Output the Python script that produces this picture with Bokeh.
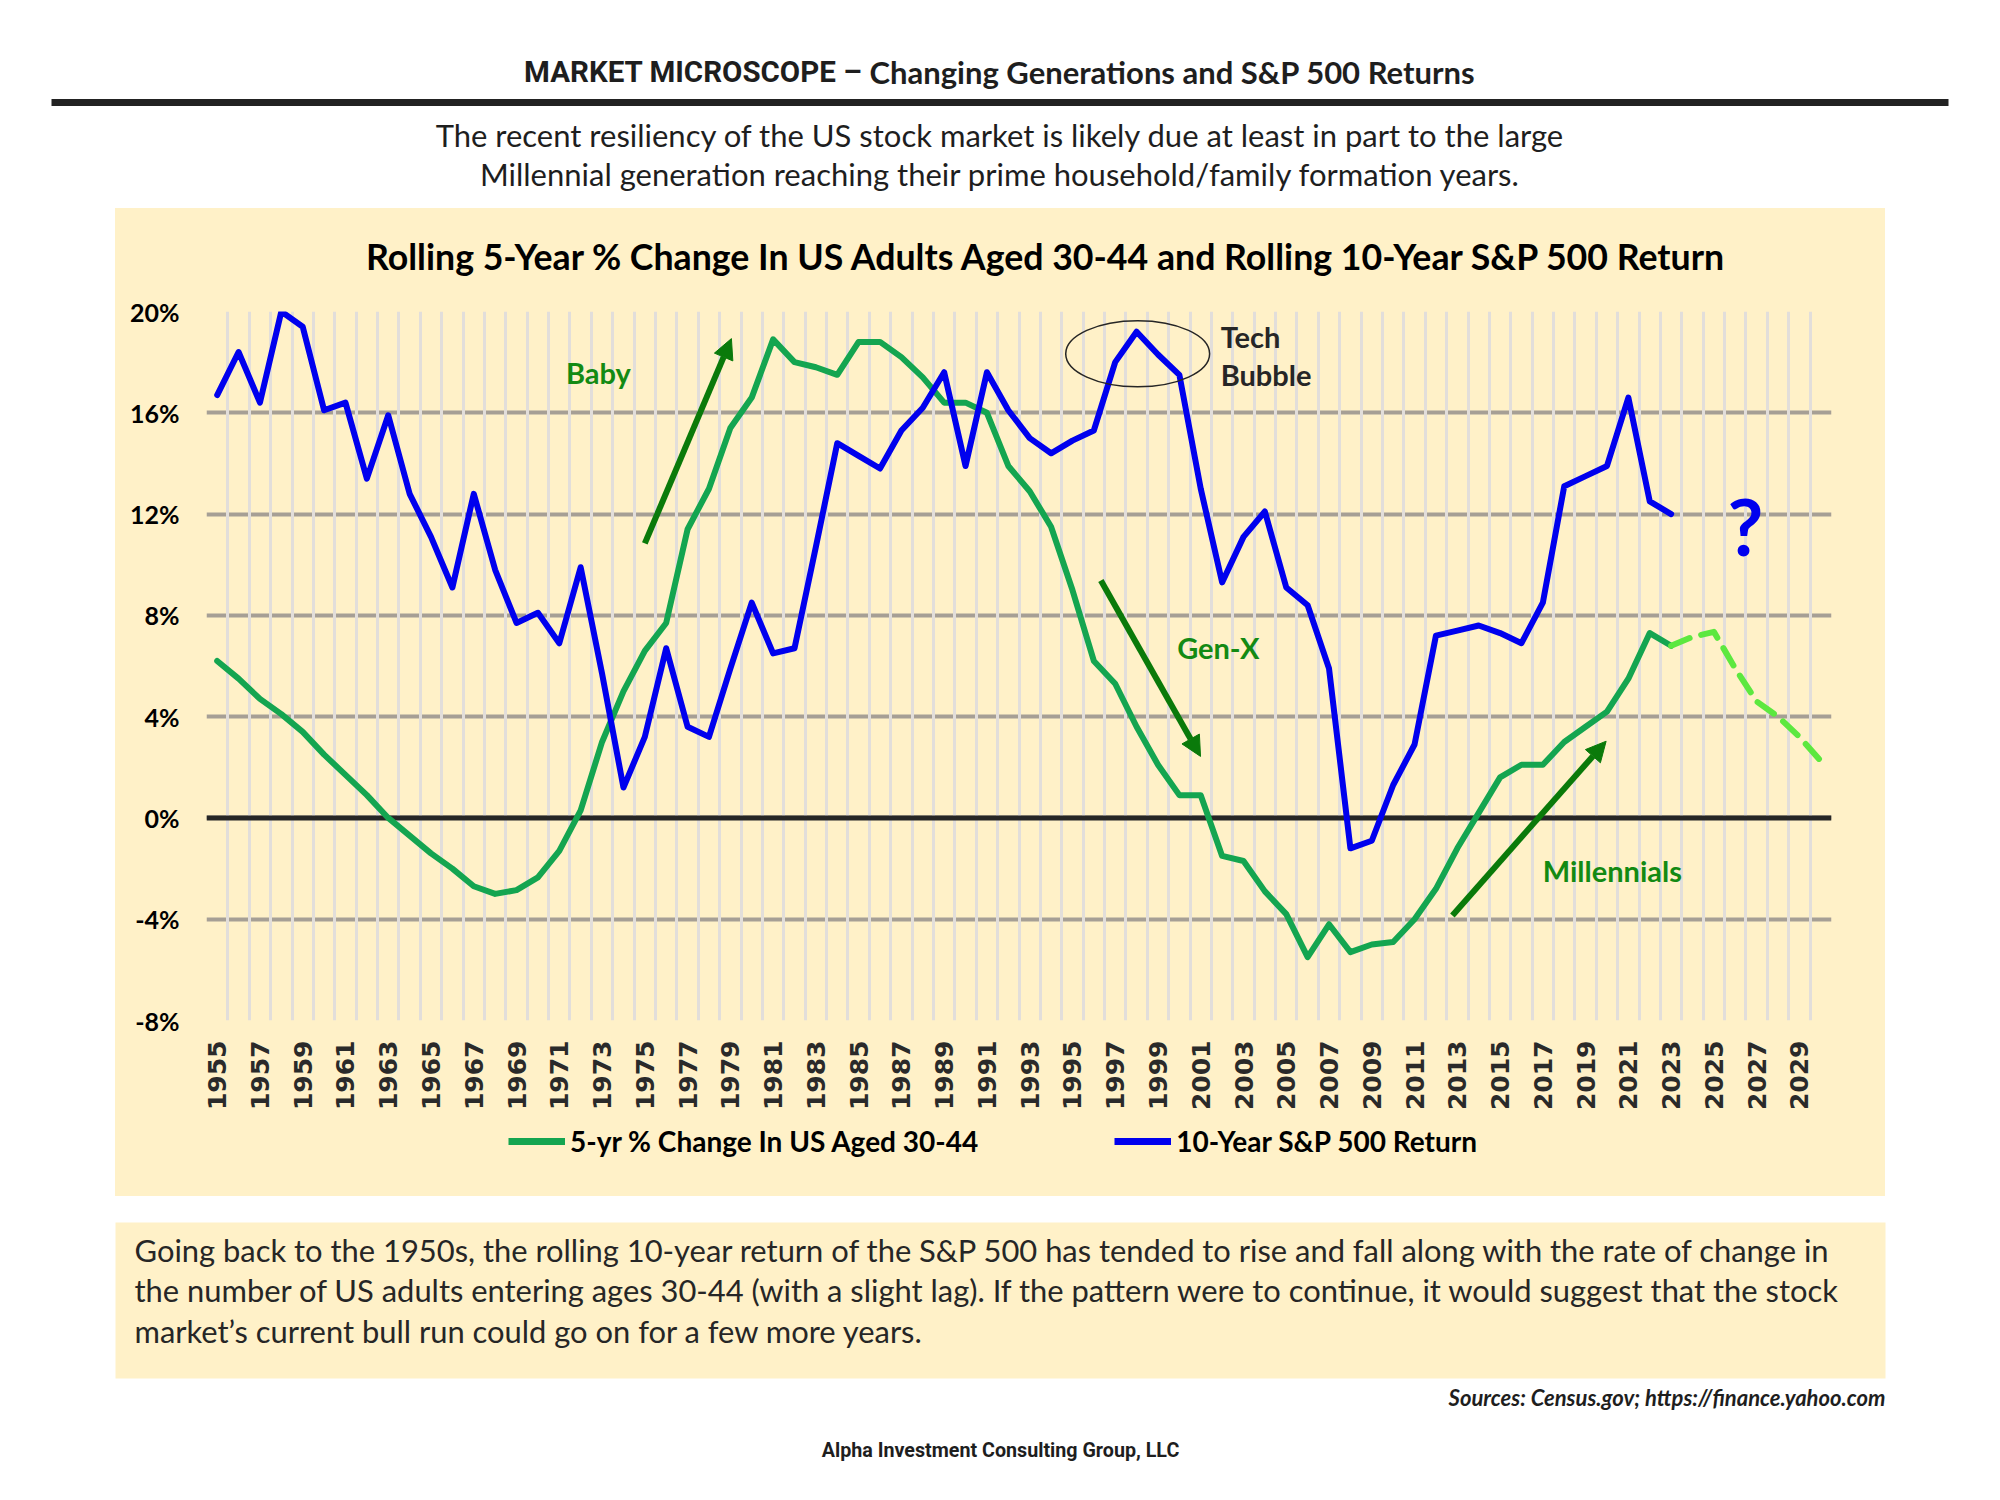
from math import pi
from bokeh.plotting import figure
from bokeh.layouts import column, row
from bokeh.models import (Range1d, FixedTicker, PrintfTickFormatter, Span, Arrow,
                          NormalHead, Legend, LegendItem, Spacer)
from bokeh.core.properties import value
from bokeh.embed import file_html
from bokeh.resources import INLINE

# ---------------- data ----------------
years = list(range(1955, 2024))
sp500_10yr = [16.7, 18.4, 16.4, 20.0, 19.4, 16.1, 16.4, 13.4, 15.9, 12.8,
              11.1, 9.1, 12.8, 9.8, 7.7, 8.1, 6.9, 9.9, 5.7, 1.2,
              3.2, 6.7, 3.6, 3.2, 5.9, 8.5, 6.5, 6.7, 10.7, 14.8,
              14.3, 13.8, 15.3, 16.2, 17.6, 13.9, 17.6, 16.1, 15.0, 14.4,
              14.9, 15.3, 18.0, 19.2, 18.3, 17.5, 13.0, 9.3, 11.1, 12.1,
              9.1, 8.4, 5.9, -1.2, -0.9, 1.3, 2.9, 7.2, 7.4, 7.6,
              7.3, 6.9, 8.5, 13.1, 13.5, 13.9, 16.6, 12.5, 12.0]
pop_30_44_5yr = [6.2, 5.5, 4.7, 4.1, 3.4, 2.5, 1.7, 0.9, 0.0, -0.7,
                 -1.4, -2.0, -2.7, -3.0, -2.85, -2.35, -1.3, 0.3, 3.0, 5.0,
                 6.6, 7.7, 11.4, 13.0, 15.4, 16.6, 18.9, 18.0, 17.8, 17.5,
                 18.8, 18.8, 18.2, 17.4, 16.4, 16.4, 16.0, 13.9, 12.9, 11.5,
                 9.0, 6.2, 5.3, 3.6, 2.1, 0.9, 0.9, -1.5, -1.7, -2.9,
                 -3.8, -5.5, -4.2, -5.3, -5.0, -4.9, -4.0, -2.8, -1.2, 0.2,
                 1.6, 2.1, 2.1, 3.0, 3.6, 4.2, 5.5, 7.3, 6.8]
proj_years = list(range(2023, 2031))
pop_30_44_proj = [6.8, 7.15, 7.35, 5.9, 4.6, 4.0, 3.2, 2.25]
tick_years = list(range(1955, 2030, 2))
pct_ticks = [-8, -4, 0, 4, 8, 12, 16, 20]
series_names = ["5-yr % Change In US Aged 30-44", "10-Year S&P 500 Return"]
chart_title = "Rolling 5-Year % Change In US Adults Aged 30-44 and Rolling 10-Year S&P 500 Return"

CREAM = "#FFF1C8"
DARK = "#1e1e1e"
GREEN = "#14A550"
BLUE = "#0000EE"
ANNOT_GREEN = "#138a13"
ARROW_GREEN = "#0a7a0a"
W = 1990


def blank(width, height, bg="white", **kw):
    opts = dict(min_border=0)
    opts.update(kw)
    f = figure(width=width, height=height, x_range=Range1d(0, width),
               y_range=Range1d(height, 0), x_axis_type=None, y_axis_type=None,
               toolbar_location=None, output_backend="svg",
               outline_line_color=None, background_fill_color=bg,
               border_fill_color=bg, **opts)
    return f


# ---------------- header ----------------
hdr = blank(W, 208)
hdr.text(x=[862], y=[71], text=["MARKET MICROSCOPE \u2013"],
         text_font=value("Roboto"), text_font_style="bold",
         text_font_size="29.5px", text_align="right", text_baseline="middle",
         text_color=DARK)
hdr.text(x=[869], y=[71], text=["Changing Generations and S&P 500 Returns"],
         text_font=value("Lato"), text_font_style="bold", text_font_size="31px",
         text_align="left", text_baseline="middle", text_color=DARK)
hdr.segment(x0=[51], y0=[102], x1=[1948], y1=[102], line_width=7, line_color="#222222")
hdr.text(x=[1000, 1000], y=[134, 173],
         text=["The recent resiliency of the US stock market is likely due at least in part to the large",
               "Millennial generation reaching their prime household/family formation years."],
         text_font=value("Lato"), text_font_size="31px", text_align="center",
         text_baseline="middle", text_color=DARK)

# ---------------- chart title strip ----------------
ttl = figure(width=1770, height=72, x_range=Range1d(91, 1716), y_range=Range1d(72, 0),
             x_axis_type=None, y_axis_type=None, toolbar_location=None,
             output_backend="svg", outline_line_color=None,
             background_fill_color=CREAM, border_fill_color=CREAM,
             min_border_left=91, min_border_right=54, min_border_top=0,
             min_border_bottom=0)
ttl.text(x=[932], y=[48], text=[chart_title], text_font=value("Lato"),
         text_font_style="bold", text_font_size="35.7px", text_align="center",
         text_baseline="middle", text_color="#000000")

# ---------------- chart ----------------
p = figure(width=1770, height=840, x_range=Range1d(1954.5, 2030.5),
           y_range=Range1d(-8, 20), toolbar_location=None, output_backend="svg",
           min_border_left=91, min_border_right=54, min_border_top=31,
           min_border_bottom=100, background_fill_color=CREAM,
           border_fill_color=CREAM, outline_line_color=None)

yax = p.yaxis[0]
yax.ticker = FixedTicker(ticks=pct_ticks)
yax.formatter = PrintfTickFormatter(format="%d%%")
yax.axis_line_color = None
yax.major_tick_line_color = None
yax.minor_tick_line_color = None
yax.major_tick_in = 0
yax.major_tick_out = 0
yax.major_label_text_font = "Lato"
yax.major_label_text_font_style = "bold"
yax.major_label_text_font_size = "25px"
yax.major_label_text_color = "#000000"
yax.major_label_standoff = 27

xax = p.xaxis[0]
xax.ticker = FixedTicker(ticks=tick_years)
xax.major_label_orientation = pi / 2
xax.axis_line_color = None
xax.major_tick_line_color = None
xax.minor_tick_line_color = None
xax.major_tick_in = 0
xax.major_tick_out = 0
xax.major_label_text_font = "DejaVu Sans"
xax.major_label_text_font_style = "bold"
xax.major_label_text_font_size = "25px"
xax.major_label_text_color = "#2a2a2a"
xax.major_label_standoff = 20

p.ygrid.ticker = FixedTicker(ticks=pct_ticks)
p.ygrid.grid_line_color = "#A69F95"
p.ygrid.grid_line_width = 4
p.ygrid.level = "image"
p.xgrid.ticker = FixedTicker(ticks=[y - 0.5 for y in range(1955, 2032)])
p.xgrid.grid_line_color = "#E2DEDA"
p.xgrid.grid_line_width = 3
p.xgrid.level = "underlay"

p.add_layout(Span(location=0, dimension="width", line_color="#262626",
                  line_width=5, level="underlay"))

p.line(years, pop_30_44_5yr, line_color=GREEN, line_width=6,
       line_join="round", line_cap="round")
p.line(years, sp500_10yr, line_color=BLUE, line_width=6,
       line_join="round", line_cap="round")
p.line(proj_years, pop_30_44_proj, line_color="#5CE83F", line_width=6,
       line_dash="20 12", line_join="round", line_cap="round")

# annotations
for (xs, ys, xe, ye) in [(1975.0, 10.84, 1979.05, 18.93),
                         (1996.33, 9.38, 2000.99, 2.43),
                         (2012.77, -3.85, 2019.96, 3.03)]:
    p.add_layout(Arrow(end=NormalHead(size=20, fill_color=ARROW_GREEN,
                                      line_color=ARROW_GREEN),
                       x_start=xs, y_start=ys, x_end=xe, y_end=ye,
                       line_color=ARROW_GREEN, line_width=6))

p.text(x=[1972.83, 2001.82, 2020.25], y=[17.59, 6.73, -2.08],
       text=["Baby", "Gen-X", "Millennials"], text_font=value("Lato"),
       text_font_style="bold", text_font_size="29px", text_align="center",
       text_baseline="middle", text_color=ANNOT_GREEN)
p.text(x=[2001.93, 2001.93], y=[19.01, 17.52], text=["Tech", "Bubble"],
       text_font=value("Lato"), text_font_style="bold", text_font_size="29px",
       text_align="left", text_baseline="middle", text_color="#262626")
p.ellipse(x=[1998.05], y=[18.33], width=[6.73], height=[2.61],
          fill_color=None, line_color="#262626", line_width=1.5)
p.text(x=[2026.48], y=[11.51], text=["?"], text_font=value("Lato"),
       text_font_style="bold", text_font_size="78px", text_align="center",
       text_baseline="middle", text_color=BLUE)

# ---------------- legend strip (part of the cream chart panel) ----------------
leg = blank(1770, 76, bg=CREAM, min_border_left=91, min_border_right=54,
            min_border_top=0, min_border_bottom=0)
# keys drawn off-screen so that only the legend glyphs show
g_key = leg.line(x=[-500, -400], y=[-500, -500], line_color=GREEN, line_width=7)
b_key = leg.line(x=[-500, -400], y=[-500, -500], line_color=BLUE, line_width=7)
legend = Legend(items=[LegendItem(label=series_names[0], renderers=[g_key]),
                       LegendItem(label=series_names[1], renderers=[b_key])],
                orientation="horizontal", location=(302, 38),
                label_text_font="Lato", label_text_font_style="bold",
                label_text_font_size="28px", label_text_color="#000000",
                glyph_width=57, glyph_height=20, label_standoff=5, spacing=136,
                background_fill_alpha=0, border_line_color=None, padding=0,
                margin=0)
leg.add_layout(legend)

# ---------------- bottom ----------------
bot = blank(W, 300)
bot.quad(left=[115], right=[1885], top=[26], bottom=[182], fill_color=CREAM,
         line_color=None)
bot.text(x=[134, 134, 134], y=[54, 94, 135],
         text=["Going back to the 1950s, the rolling 10-year return of the S&P 500 has tended to rise and fall along with the rate of change in",
               "the number of US adults entering ages 30-44 (with a slight lag). If the pattern were to continue, it would suggest that the stock",
               "market\u2019s current bull run could go on for a few more years."],
         text_font=value("Lato"), text_font_size="30.9px", text_align="left",
         text_baseline="middle", text_color="#262626")
bot.text(x=[1885], y=[201], text=["Sources: Census.gov; https://finance.yahoo.com"],
         text_font=value("Lato"), text_font_style="bold italic", text_font_size="22px",
         text_align="right", text_baseline="middle", text_color=DARK)
bot.text(x=[1000], y=[254], text=["Alpha Investment Consulting Group, LLC"],
         text_font=value("Roboto"), text_font_style="bold",
         text_font_size="19.7px", text_align="center", text_baseline="middle",
         text_color=DARK)

side = W - 1885
panel = column(ttl, p, leg, styles={"background-color": CREAM})
layout = column(hdr,
                row(Spacer(width=115, height=988), panel,
                    Spacer(width=side, height=988)),
                bot)

open("out.html", "w").write(file_html(layout, INLINE))
